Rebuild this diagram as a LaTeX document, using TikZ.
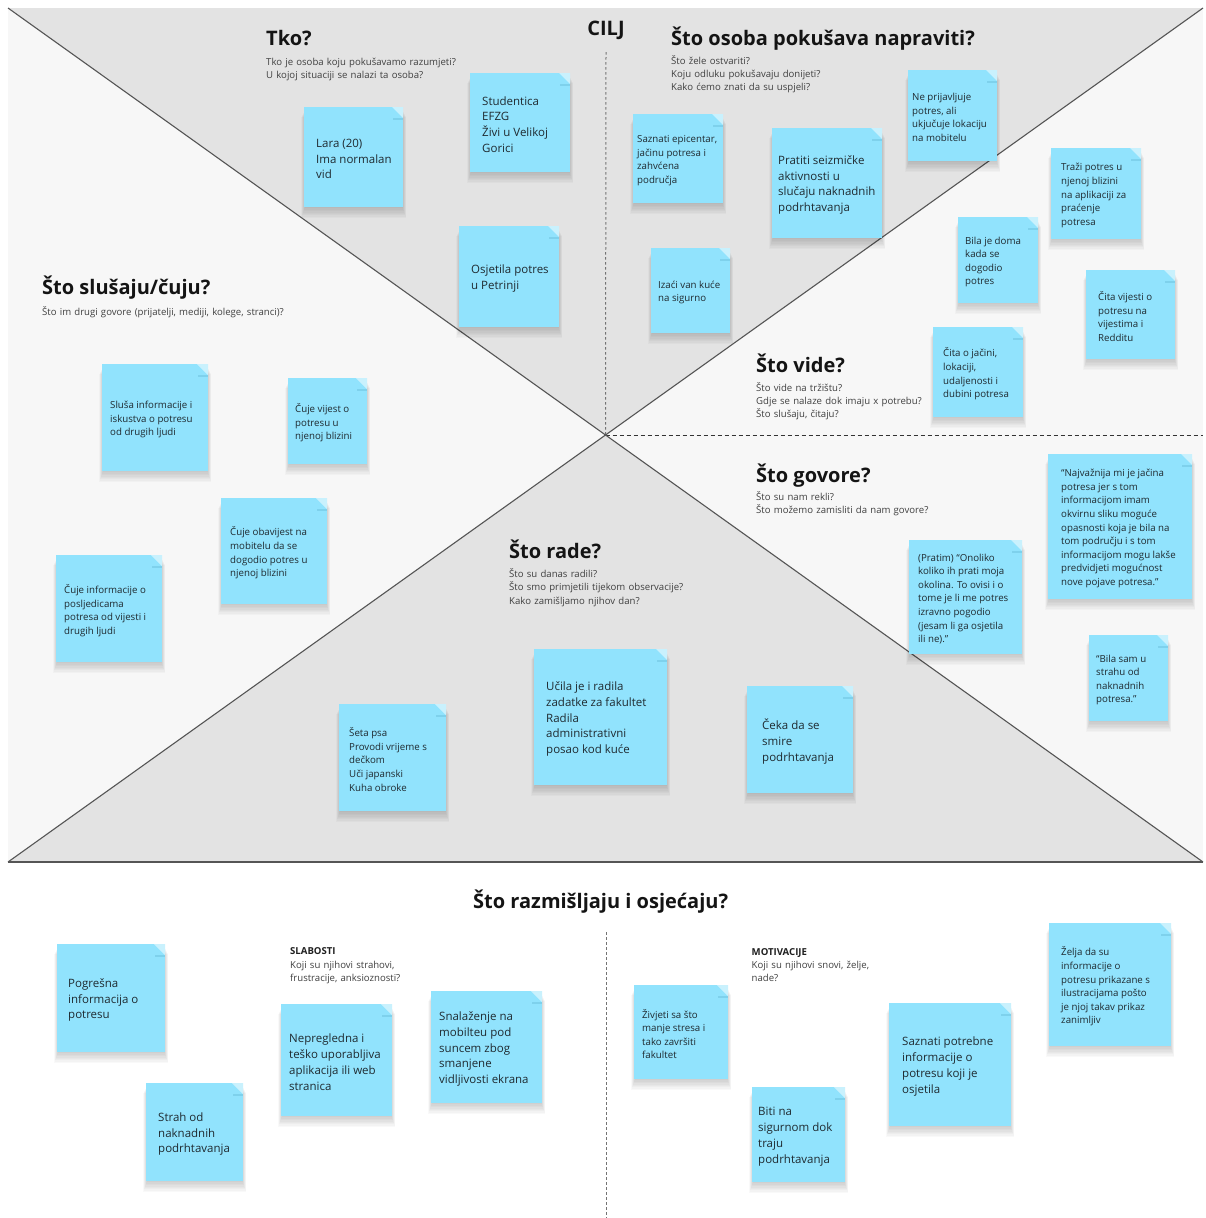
\documentclass[tikz,border=0pt]{standalone}
\usepackage{fontspec}
\setmainfont{Open Sans}
\usetikzlibrary{calc}
\definecolor{notec}{HTML}{91E3FD}
\definecolor{foldc}{HTML}{C9F1FD}
\definecolor{folddk}{HTML}{6FC3DF}
\definecolor{graybg}{HTML}{E3E3E3}
\definecolor{lightbg}{HTML}{F7F7F7}
\definecolor{linec}{HTML}{555555}
\definecolor{notetxt}{HTML}{1F2A30}
\tikzset{
 notebox/.style={fill=notec, outer sep=0pt, inner sep=0pt, anchor=north west},
 notetext/.style={inner sep=0pt, align=left, text=notetxt, anchor=west},
 smallt/.style={font=\fontsize{9.7}{13.6}\selectfont},
 larget/.style={font=\fontsize{11.5}{15.8}\selectfont},
 head/.style={font=\fontsize{20}{24}\selectfont\bfseries, inner sep=0pt, anchor=base west, text=black!92},
 subq/.style={font=\fontsize{9.6}{13.4}\selectfont, inner sep=0pt, anchor=base west, text width=320pt, align=left, text=black!75},
 lbl/.style={font=\fontsize{9.6}{13}\selectfont\bfseries, inner sep=0pt, anchor=base west, text=black!88},
 divline/.style={draw=linec, line width=1.1pt},
 shadowc/.style={fill=black, opacity=0.022},
 dashv/.style={draw=black!55, line width=1pt, dash pattern=on 2.5pt off 2.5pt},
 dashh/.style={draw=black!80, line width=0.9pt, dash pattern=on 4pt off 3pt},
}
% name, x, y, w, h, left pad, text style, text
\newcommand\sticky[8]{%
 \foreach \i in {1,...,8}{%
  \fill[shadowc] (#2-0.5*\i+1,#3+2+\i) rectangle (#2+#4+0.5*\i-1,#3+#5+1.4*\i);
 }
 \node[notebox,minimum width=#4pt,minimum height=#5pt] (#1) at (#2,#3) {};
 \node[notetext,#7] (#1-t) at ($(#1.west)+(#6,2)$) {#8};
 \fill[foldc] ($(#1.north east)+(-11,0)$) -- (#1.north east) -- ($(#1.north east)+(0,11)$) -- cycle;
 \fill[folddk,opacity=0.55] ($(#1.north east)+(-10,10.5)$) rectangle ($(#1.north east)+(0,12.5)$);
}
\begin{document}
\begin{tikzpicture}[x=1pt,y=-1pt]
\useasboundingbox (0,0) rectangle (1206,1218);
\fill[white] (0,0) rectangle (1206,1218);
% coordinates
\coordinate (TL) at (8,8);
\coordinate (TR) at (1203,8);
\coordinate (BL) at (8,862);
\coordinate (BR) at (1203,862);
\coordinate (C) at (605.5,435);
\coordinate (RM) at (1203,435);
\coordinate (VT) at (606,52);
\coordinate (BT) at (606,932);
\coordinate (BB) at (606,1218);
% backgrounds
\fill[lightbg] (TL) rectangle (BR);
\fill[graybg] (TL) -- (TR) -- (C) -- cycle;
\fill[graybg] (BL) -- (BR) -- (C) -- cycle;
\draw[dashv] (VT) -- (C);
\draw[dashh] (C) -- (RM);
\draw[divline] (TL) -- (BR);
\draw[divline] (TR) -- (BL);
\draw[divline] (BL) -- (BR);
\draw[dashv] (BT) -- (BB);
% headings
\node[head] (tko) at (266,45) {Tko?};
\node[subq] (tkoq) at (266,65) {Tko je osoba koju pokušavamo razumjeti?\\U kojoj situaciji se nalazi ta osoba?};
\node[head,anchor=base] (cilj) at (606,35) {CILJ};
\node[head] (sto) at (671,45) {Što osoba pokušava napraviti?};
\node[subq] (stoq) at (671,64) {Što žele ostvariti?\\Koju odluku pokušavaju donijeti?\\Kako ćemo znati da su uspjeli?};
\node[head] (slusaju) at (42,294) {Što slušaju/čuju?};
\node[subq] (slusajuq) at (42,315) {Što im drugi govore (prijatelji, mediji, kolege, stranci)?};
\node[head] (vide) at (756,372) {Što vide?};
\node[subq] (videq) at (756,391) {Što vide na tržištu?\\Gdje se nalaze dok imaju x potrebu?\\Što slušaju, čitaju?};
\node[head] (govore) at (756,482) {Što govore?};
\node[subq] (govoreq) at (756,500.5) {Što su nam rekli?\\Što možemo zamisliti da nam govore?};
\node[head] (rade) at (509,558) {Što rade?};
\node[subq] (radeq) at (509,577.5) {Što su danas radili?\\Što smo primjetili tijekom observacije?\\Kako zamišljamo njihov dan?};
\node[head] (razm) at (473,908) {Što razmišljaju i osjećaju?};
\node[lbl] (slab) at (290,954) {SLABOSTI};
\node[subq,text width=140pt] (slabq) at (290,968) {Koji su njihovi strahovi,\\frustracije, anksioznosti?};
\node[lbl] (motiv) at (751.5,955) {MOTIVACIJE};
\node[subq,text width=140pt] (motivq) at (751.5,968) {Koji su njihovi snovi, želje,\\nade?};
% sticky notes
\sticky{lara}{304}{107}{99}{100}{12}{larget}{Lara (20)\\Ima normalan\\vid}
\sticky{studentica}{470}{73}{100}{99}{12}{larget}{Studentica\\EFZG\\Živi u Velikoj\\Gorici}
\sticky{osjetila}{459}{226}{100}{101}{12}{larget}{Osjetila potres\\u Petrinji}
\sticky{saznati}{633}{114}{90}{89}{4}{smallt}{Saznati epicentar,\\jačinu potresa i\\zahvćena\\područja}
\sticky{pratiti}{772}{128}{110}{110}{6}{larget}{Pratiti seizmičke\\aktivnosti u\\slučaju naknadnih\\podrhtavanja}
\sticky{neprij}{908}{70}{89}{91}{4}{smallt}{Ne prijavljuje\\potres, ali\\ukjučuje lokaciju\\na mobitelu}
\sticky{izaci}{651}{248}{79}{85}{7}{smallt}{Izaći van kuće\\na sigurno}
\sticky{trazi}{1051}{148}{90}{91}{10}{smallt}{Traži potres u\\njenoj blizini\\na aplikaciji za\\praćenje\\potresa}
\sticky{doma}{958}{217}{80}{86}{7}{smallt}{Bila je doma\\kada se\\dogodio\\potres}
\sticky{citavij}{1086}{270}{89}{89}{12}{smallt}{Čita vijesti o\\potresu na\\vijestima i\\Redditu}
\sticky{citajac}{933}{327}{90}{90}{10}{smallt}{Čita o jačini,\\lokaciji,\\udaljenosti i\\dubini potresa}
\sticky{slusa}{102}{364}{106}{107}{8}{smallt}{Sluša informacije i\\iskustva o potresu\\od drugih ljudi}
\sticky{cujevij}{288}{378}{79}{86}{7}{smallt}{Čuje vijest o\\potresu u\\njenoj blizini}
\sticky{cujeobav}{221}{498}{106}{106}{9}{smallt}{Čuje obavijest na\\mobitelu da se\\dogodio potres u\\njenoj blizini}
\sticky{cujeinfo}{56}{555}{106}{107}{8}{smallt}{Čuje informacije o\\posljedicama\\potresa od vijesti i\\drugih ljudi}
\sticky{najv}{1048}{454}{144}{145}{13}{smallt}{“Najvažnija mi je jačina\\potresa jer s tom\\informacijom imam\\okvirnu sliku moguće\\opasnosti koja je bila na\\tom području i s tom\\informacijom mogu lakše\\predvidjeti mogućnost\\nove pojave potresa.”}
\sticky{pratim}{909}{540}{113}{114}{9}{smallt}{(Pratim) “Onoliko\\koliko ih prati moja\\okolina. To ovisi i o\\tome je li me potres\\izravno pogodio\\(jesam li ga osjetila\\ili ne).”}
\sticky{bilasam}{1089}{635}{79}{86}{7}{smallt}{“Bila sam u\\strahu od\\naknadnih\\potresa.”}
\sticky{seta}{339}{704}{107}{107}{10}{smallt}{Šeta psa\\Provodi vrijeme s\\dečkom\\Uči japanski\\Kuha obroke}
\sticky{ucila}{534}{649}{133}{136}{12}{larget}{Učila je i radila\\zadatke za fakultet\\Radila\\administrativni\\posao kod kuće}
\sticky{ceka}{747}{686}{106}{107}{15}{larget}{Čeka da se\\smire\\podrhtavanja}
\sticky{pogresna}{57}{944}{108}{108}{11}{larget}{Pogrešna\\informacija o\\potresu}
\sticky{strah}{146}{1083}{97}{98}{12}{larget}{Strah od\\naknadnih\\podrhtavanja}
\sticky{nepregl}{281}{1004}{111}{112}{8}{larget}{Nepregledna i\\teško uporabljiva\\aplikacija ili web\\stranica}
\sticky{snal}{431}{991}{111}{112}{8}{larget}{Snalaženje na\\mobilteu pod\\suncem zbog\\smanjene\\vidljivosti ekrana}
\sticky{zivjeti}{634}{985}{94}{94}{8}{smallt}{Živjeti sa što\\manje stresa i\\tako završiti\\fakultet}
\sticky{biti}{752}{1087}{93}{95}{6}{larget}{Biti na\\sigurnom dok\\traju\\podrhtavanja}
\sticky{saznpot}{889}{1003}{122}{123}{13}{larget}{Saznati potrebne\\informacije o\\potresu koji je\\osjetila}
\sticky{zelja}{1049}{923}{122}{123}{12}{smallt}{Želja da su\\informacije o\\potresu prikazane s\\ilustracijama pošto\\je njoj takav prikaz\\zanimljiv}
\end{tikzpicture}
\end{document}
